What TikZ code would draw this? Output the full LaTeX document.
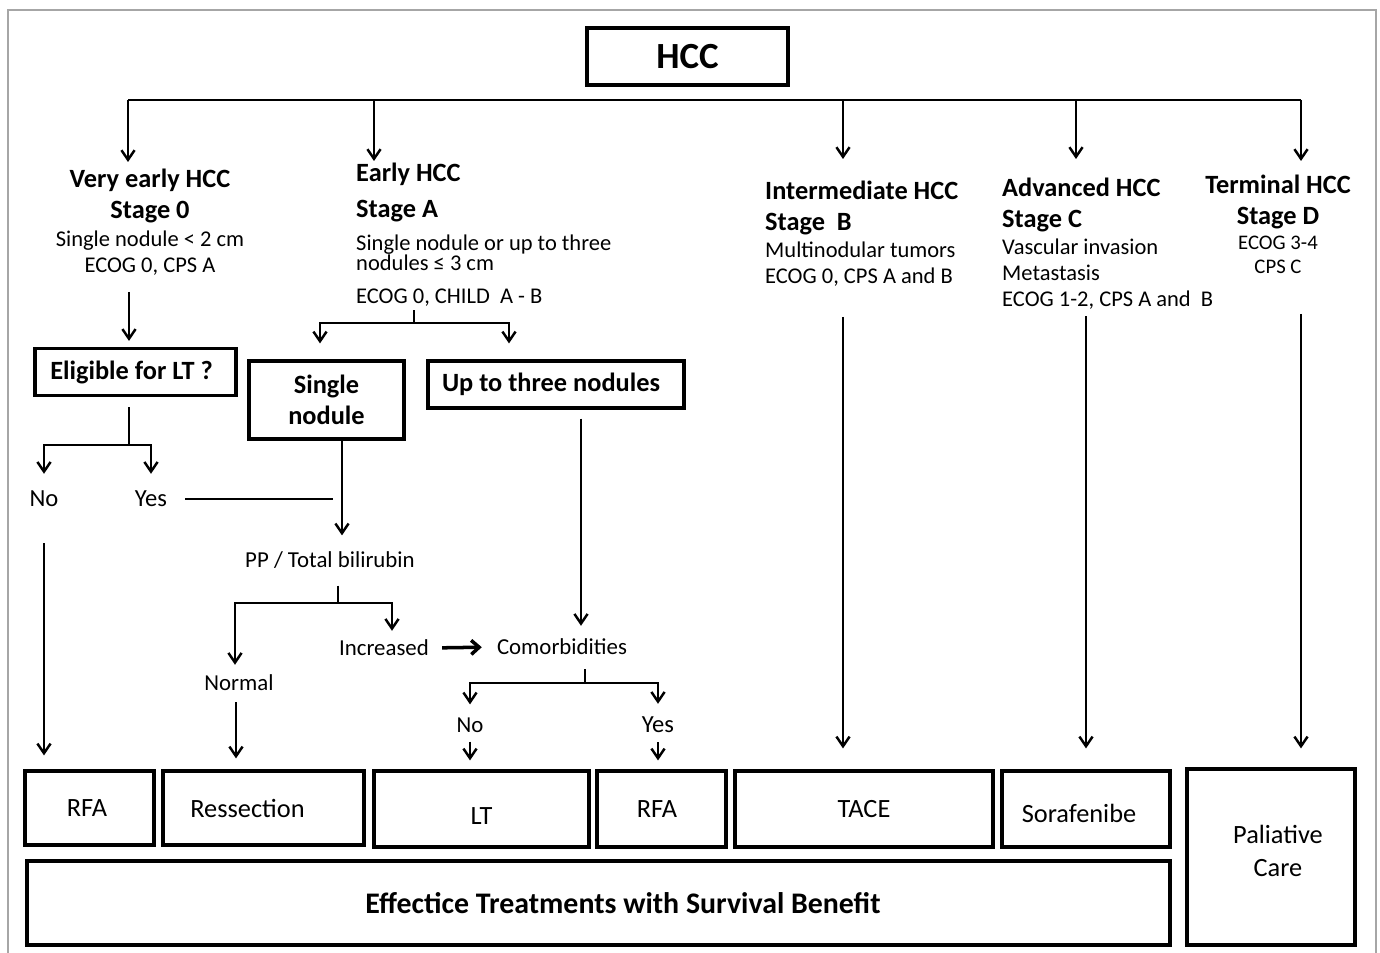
\documentclass[tikz,border=0pt]{standalone}
\usepackage{fontspec}
\setmainfont{Carlito}
\usetikzlibrary{arrows.meta}
\newlength{\unitpx}\setlength{\unitpx}{0.02cm}
\newcommand{\hd}{\fontsize{15}{17.5}\selectfont\bfseries}
\newcommand{\txt}{\fontsize{12.8}{14.7}\selectfont}

\begin{document}
\begin{tikzpicture}[x=0.02cm, y=-0.02cm, line width=1.4pt,
  arr/.style={-{Straight Barb[length=5.5pt,width=7.5pt]}},
  box/.style={draw, line width=1.8pt, inner sep=0pt, font=\fontsize{15}{17.5}\selectfont},
  stage/.style={inner sep=0pt, font=\txt},
  lbl/.style={inner sep=0pt, font=\fontsize{13}{15}\selectfont},
  yn/.style={inner sep=0pt, font=\fontsize{14}{16}\selectfont}]
  \useasboundingbox (0,0) rectangle (1380,953);
  \draw[gray!70, line width=0.6pt] (8,953) -- (8,10) -- (1376,10) -- (1376,953);

  \node[box, font=\fontsize{21}{25}\selectfont\bfseries, minimum width=201\unitpx, minimum height=57\unitpx] (hcc) at (687.5,56.5) {HCC};

  \node[stage, anchor=north, align=center] (vearly) at (150,168)
    {{\hd Very early HCC}\\[2.6pt]{\hd Stage 0}\\[1.7pt]Single nodule < 2 cm\\ECOG 0, CPS A};
  \node[stage, anchor=north west, align=left, font={\fontsize{12.8}{11.3}\selectfont\lineskiplimit=-6pt}] (early) at (355,162)
    {{\hd Early HCC}\\[8.9pt]{\hd Stage A}\\[7.8pt]Single nodule or up to three\\nodules ≤ 3 cm\\[7.2pt]ECOG 0, CHILD\ \ A - B};
  \node[stage, anchor=north west, align=left] (interm) at (764,180)
    {{\hd Intermediate HCC}\\[2.9pt]{\hd Stage\ \ B}\\[0.8pt]Multinodular tumors\\ECOG 0, CPS A and B};
  \node[stage, anchor=north west, align=left] (adv) at (1001,177)
    {{\hd Advanced HCC}\\[2.9pt]{\hd Stage C}\\[0.7pt]Vascular invasion\\Metastasis\\ECOG 1-2, CPS A and\ \ B};
  \node[stage, anchor=north, align=center, font=\fontsize{11.8}{13.6}\selectfont] (term) at (1278,174)
    {{\hd Terminal HCC}\\[4pt]{\hd Stage D}\\[0.6pt]ECOG 3-4\\CPS C};

  \node[box, font=\hd, minimum width=201\unitpx, minimum height=47\unitpx] (elig) at (135.5,372) {\hspace*{-8\unitpx}Eligible for LT ?};
  \node[box, font=\hd, align=center, minimum width=155\unitpx, minimum height=78\unitpx] (single) at (326.5,400) {Single\\nodule};
  \node[box, font=\hd, minimum width=256\unitpx, minimum height=47\unitpx] (three) at (556,384.5) {\hspace*{-10\unitpx}Up to three nodules};

  \node[yn] (no1) at (44,499) {No};
  \node[yn] (yes1) at (151,499) {Yes};
  \node[lbl] (bili) at (330,560) {PP / Total bilirubin};
  \node[lbl] (incr) at (384,648) {Increased};
  \node[lbl] (comor) at (562,647) {Comorbidities};
  \node[lbl] (normal) at (239,683) {Normal};
  \node[lbl] (no2) at (470,725) {No};
  \node[yn] (yes2) at (658,725) {Yes};

  \node[box, minimum width=129\unitpx, minimum height=74\unitpx] (rfa1) at (89.5,808) {\hspace*{-5\unitpx}RFA};
  \node[box, minimum width=201\unitpx, minimum height=74\unitpx] (resec) at (263.5,808) {\hspace*{-32\unitpx}Ressection};
  \node[box, minimum width=215\unitpx, minimum height=76\unitpx] (lt) at (481.5,809) {\raisebox{-7\unitpx}[\height][\depth]{LT}};
  \node[box, minimum width=129\unitpx, minimum height=76\unitpx] (rfa2) at (661.5,809) {\hspace*{-9\unitpx}RFA};
  \node[box, minimum width=258\unitpx, minimum height=76\unitpx] (tace) at (864,809) {TACE};
  \node[box, minimum width=168\unitpx, minimum height=76\unitpx] (sora) at (1086,809) {\hspace*{-14\unitpx}\raisebox{-4\unitpx}[\height][\depth]{Sorafenibe}};
  \node[box, minimum width=168\unitpx, minimum height=176\unitpx] (pal) at (1271,857)
    {\hspace*{14\unitpx}\raisebox{3\unitpx}[\height][\depth]{\begin{tabular}{@{}c@{}}Paliative\\[1pt]Care\end{tabular}}};
  \node[box, font=\fontsize{17}{20}\selectfont\bfseries, minimum width=1143\unitpx, minimum height=84\unitpx] (eff) at (598.5,903) {\hspace*{49\unitpx}Effectice Treatments with Survival Benefit};

  \coordinate (b1) at (128,100);
  \coordinate (b2) at (374,100);
  \coordinate (b3) at (843,100);
  \coordinate (b4) at (1076,100);
  \coordinate (b5) at (1301,100);
  \coordinate (j2) at (129,445);
  \coordinate (j3) at (414,323);
  \coordinate (j5) at (338,603);
  \coordinate (j6) at (585,683);

  \draw (b1) -- (b5);
  \foreach \c/\n/\d in {b1/vearly/6, b2/early/1, b3/interm/21, b4/adv/18, b5/term/13}
    \draw[arr, shorten >=\d\unitpx] (\c) -- (\c |- \n.north);

  \draw[arr, shorten <=15\unitpx, shorten >=6\unitpx] (j2 |- vearly.south) -- (j2 |- elig.north);
  \draw[shorten <=10\unitpx] (j2 |- elig.south) -- (j2);
  \draw[arr, shorten >=16\unitpx] (j2) -| (no1.north);
  \draw[arr, shorten >=16\unitpx] (j2) -| (yes1.north);

  \draw[shorten <=3\unitpx] (j3 |- early.south) -- (j3);
  \draw[arr, shorten >=16\unitpx] (j3) -| ([xshift=-6.5\unitpx]single.north);
  \draw[arr, shorten >=16\unitpx] (j3) -| ([xshift=-47\unitpx]three.north);

  \draw[arr, shorten >=15\unitpx] ([xshift=15.5\unitpx]single.south) -- ([xshift=15.5\unitpx]single.south |- bili.north);
  \draw[shorten <=17\unitpx, shorten >=5\unitpx] (yes1.east) -- (yes1.east -| j5);
  \draw[shorten <=16\unitpx] (j5 |- bili.south) -- (j5);
  \draw[arr, shorten >=9\unitpx] (j5) -| ([xshift=-4\unitpx]normal.north);
  \draw[arr, shorten >=8\unitpx] (j5) -| ([xshift=8\unitpx]incr.north);
  \draw[-{Straight Barb[length=4.5pt,width=8pt]}, line width=2pt, shorten <=12\unitpx, shorten >=14\unitpx] (incr.east) -- (comor.west);

  \draw[arr, shorten <=9\unitpx, shorten >=12\unitpx] ([xshift=-4\unitpx]j6 |- three.south) -- ([xshift=-4\unitpx]j6 |- comor.north);
  \draw[shorten <=13\unitpx] (j6 |- comor.south) -- (j6);
  \draw[arr, shorten >=12\unitpx] (j6) -| (no2.north);
  \draw[arr, shorten >=12\unitpx] (j6) -| (yes2.north);

  \draw[arr, shorten <=35\unitpx, shorten >=14\unitpx] (no1.south) -- (no1.south |- rfa1.north);
  \draw[arr, shorten <=10\unitpx, shorten >=11\unitpx] ([xshift=-3\unitpx]normal.south) -- ([xshift=-3\unitpx]normal.south |- resec.north);
  \draw[arr, shorten <=8\unitpx, shorten >=9\unitpx] (no2.south) -- (no2.south |- lt.north);
  \draw[arr, shorten <=8\unitpx, shorten >=9\unitpx] (yes2.south) -- (yes2.south |- rfa2.north);
  \draw[arr, shorten <=29\unitpx, shorten >=21\unitpx] (b3 |- interm.south) -- (b3 |- tace.north);
  \draw[arr, shorten <=6\unitpx, shorten >=21\unitpx] (sora.north |- adv.south) -- (sora.north);
  \draw[arr, shorten <=39\unitpx, shorten >=19\unitpx] (b5 |- term.south) -- (b5 |- pal.north);
\end{tikzpicture}
\end{document}
